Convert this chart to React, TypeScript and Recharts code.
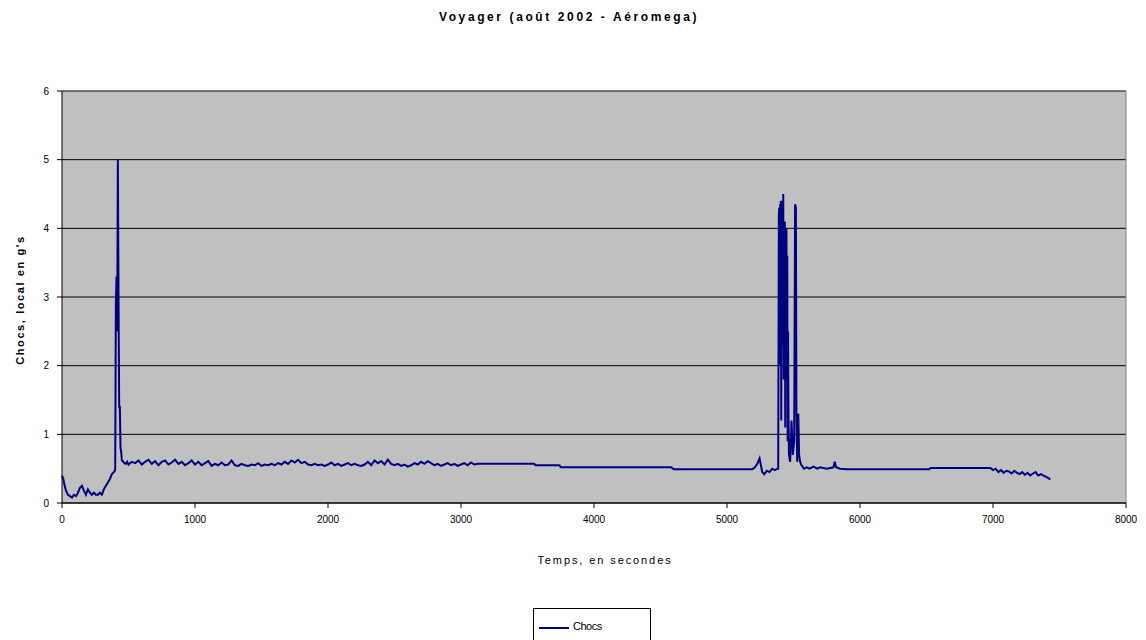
import React from 'react';
import {
  LineChart,
  Line,
  XAxis,
  YAxis,
  CartesianGrid,
  Legend,
  ReferenceLine,
} from 'recharts';

// start: slow ramp, then first shock peak
const startTimes = [
  0, 10, 20, 30, 45, 60, 75, 90, 105, 120, 135, 150, 165, 180, 195, 210, 225, 240, 255, 270,
  285, 300, 315, 330, 345, 360, 375, 390, 400, 405, 410, 415, 420, 425, 430, 435, 440, 445,
  450, 460, 470, 480, 490,
];
const startChocs = [
  0.4, 0.35, 0.25, 0.18, 0.12, 0.1, 0.08, 0.12, 0.1, 0.15, 0.22, 0.25, 0.18, 0.12, 0.2, 0.15,
  0.12, 0.15, 0.12, 0.12, 0.15, 0.12, 0.2, 0.25, 0.3, 0.35, 0.42, 0.45, 0.48, 2.9, 3.3, 2.5,
  5.0, 3.0, 1.4, 1.4, 0.8, 0.75, 0.62, 0.6, 0.58, 0.57, 0.6,
];

// noisy cruise
const cruiseTimes = [
  500, 525, 550, 575, 600, 625, 650, 675, 700, 725,
  750, 775, 800, 825, 850, 875, 900, 925, 950, 975,
  1000, 1025, 1050, 1075, 1100, 1125, 1150, 1175, 1200, 1225,
  1250, 1275, 1300, 1325, 1350, 1375, 1400, 1425, 1450, 1475,
  1500, 1525, 1550, 1575, 1600, 1625, 1650, 1675, 1700, 1725,
  1750, 1775, 1800, 1825, 1850, 1875, 1900, 1925, 1950, 1975,
  2000, 2025, 2050, 2075, 2100, 2125, 2150, 2175, 2200, 2225,
  2250, 2275, 2300, 2325, 2350, 2375, 2400, 2425, 2450, 2475,
  2500, 2525, 2550, 2575, 2600, 2625, 2650, 2675, 2700, 2725,
  2750, 2775, 2800, 2825, 2850, 2875, 2900, 2925, 2950, 2975,
  3000, 3025, 3050, 3075, 3100,
];
const cruiseChocs = [
  0.56, 0.6, 0.58, 0.62, 0.56, 0.6, 0.63, 0.57, 0.61, 0.55,
  0.6, 0.62, 0.56, 0.59, 0.63, 0.57, 0.6, 0.55, 0.58, 0.62,
  0.56, 0.6, 0.55, 0.58, 0.61, 0.54, 0.57, 0.55, 0.59, 0.55,
  0.56, 0.62, 0.55, 0.54, 0.57, 0.55, 0.54, 0.56, 0.55, 0.58,
  0.54, 0.56, 0.55, 0.57, 0.55, 0.58, 0.56, 0.6, 0.57, 0.62,
  0.59, 0.63, 0.58, 0.6, 0.56, 0.55, 0.57, 0.55, 0.56, 0.54,
  0.56, 0.59, 0.55, 0.57, 0.54, 0.56, 0.58, 0.55, 0.57, 0.55,
  0.54, 0.56, 0.6, 0.55, 0.62, 0.58, 0.61, 0.56, 0.63, 0.57,
  0.55, 0.57, 0.54, 0.56, 0.53, 0.55, 0.58, 0.56, 0.6, 0.57,
  0.61, 0.58, 0.55, 0.57, 0.54, 0.56, 0.58, 0.55, 0.57, 0.54,
  0.56, 0.58, 0.55, 0.59, 0.56,
];

// calm stretch before the second burst
const calmTimes = [
  3125, 3550, 3560, 3740, 3750, 4580, 4600, 5190, 5210, 5230, 5245, 5255, 5265, 5280, 5300,
  5320, 5340, 5360, 5380, 5385,
];
const calmChocs = [
  0.57, 0.57, 0.55, 0.55, 0.52, 0.52, 0.49, 0.49, 0.52, 0.58, 0.65, 0.55, 0.45, 0.42, 0.47,
  0.45, 0.5, 0.48, 0.5, 0.5,
];

// second burst of shocks
const burstTimes = [
  5390, 5393, 5396, 5399, 5402, 5405, 5408, 5411, 5414, 5417, 5420, 5423, 5426, 5429, 5432,
  5435, 5438, 5441, 5444, 5447, 5450, 5453, 5456, 5459, 5462, 5466, 5475, 5485, 5495, 5505,
  5512, 5518, 5522, 5528, 5536, 5542, 5550,
];
const burstChocs = [
  4.2, 4.3, 2.0, 4.35, 3.0, 4.4, 1.2, 4.2, 2.3, 4.4, 3.0, 4.5, 1.8, 4.0, 2.2,
  4.1, 1.1, 3.9, 2.6, 4.0, 1.8, 3.6, 0.9, 2.5, 1.3, 0.7, 0.6, 1.2, 0.7, 0.9,
  4.35, 4.3, 1.3, 0.6, 1.3, 0.7, 0.6,
];

// landing / taxi
const endTimes = [
  5560, 5580, 5600, 5620, 5650, 5680, 5700, 5750, 5800, 5810, 5820, 5850, 5900, 6520, 6530,
  6980, 7000, 7020, 7040, 7060, 7080, 7100, 7120, 7140, 7160, 7180, 7200, 7220, 7240, 7260,
  7280, 7300, 7320, 7340, 7360, 7380, 7400, 7420, 7430,
];
const endChocs = [
  0.55, 0.5, 0.52, 0.5, 0.53, 0.5, 0.52, 0.5, 0.52, 0.6, 0.52, 0.5, 0.49, 0.49, 0.51,
  0.51, 0.48, 0.5, 0.45, 0.48, 0.44, 0.47, 0.46, 0.43, 0.47, 0.44, 0.42, 0.45, 0.41, 0.44,
  0.4, 0.43, 0.45, 0.4, 0.42, 0.4, 0.38, 0.36, 0.34,
];

const xTicks = [0, 1000, 2000, 3000, 4000, 5000, 6000, 7000, 8000];
const yTicks = [0, 1, 2, 3, 4, 5, 6];

const times = [...startTimes, ...cruiseTimes, ...calmTimes, ...burstTimes, ...endTimes];
const chocs = [...startChocs, ...cruiseChocs, ...calmChocs, ...burstChocs, ...endChocs];
const data = times.map((t, i) => ({ t, chocs: chocs[i] }));

const FONT = '"Liberation Sans", Arial, sans-serif';

const LegendBox = () => (
  <div
    style={{
      width: 118,
      height: 40,
      border: '1px solid #000',
      background: '#fff',
      boxSizing: 'border-box',
      display: 'flex',
      alignItems: 'flex-start',
      paddingTop: 11,
      paddingLeft: 5,
      fontFamily: FONT,
      fontSize: 11,
      color: '#000',
    }}
  >
    <svg width={32} height={10} style={{ marginTop: 3 }}>
      <line x1={0} y1={5} x2={30} y2={5} stroke="#000080" strokeWidth={2} />
    </svg>
    <span style={{ marginLeft: 2, letterSpacing: -0.5 }}>Chocs</span>
  </div>
);

export default function App() {
  const tick = { fill: '#000', fontSize: 10, fontFamily: FONT };
  return (
    <div style={{ position: 'relative', width: 1146, height: 640, background: '#fff', overflow: 'hidden' }}>
      <style>{'body{margin:0}'}</style>
      <div
        style={{
          position: 'absolute',
          top: 10,
          left: 0,
          width: 1138,
          textAlign: 'center',
          fontFamily: FONT,
          fontWeight: 'bold',
          fontSize: 12,
          letterSpacing: 2.6,
        }}
      >
        Voyager (août 2002 - Aéromega)
      </div>
      <div
        style={{
          position: 'absolute',
          left: 20,
          top: 300,
          transform: 'translate(-50%, -50%) rotate(-90deg)',
          whiteSpace: 'nowrap',
          fontFamily: FONT,
          fontWeight: 'bold',
          fontSize: 11,
          letterSpacing: 1.6,
        }}
      >
        Chocs, local en g's
      </div>
      <div
        style={{
          position: 'absolute',
          top: 554,
          left: 605,
          transform: 'translateX(-50%)',
          whiteSpace: 'nowrap',
          fontFamily: FONT,
          fontSize: 11,
          letterSpacing: 1.9,
        }}
      >
        Temps, en secondes
      </div>
      <LineChart
        width={1146}
        height={640}
        data={data}
        margin={{ top: 91, right: 20, bottom: 107, left: 22 }}
        style={{ position: 'absolute', top: 0, left: 0 }}
      >
        <CartesianGrid vertical={false} stroke="#000" fill="#c0c0c0" />
        <XAxis
          dataKey="t"
          type="number"
          domain={[0, 8000]}
          ticks={xTicks}
          interval={0}
          height={30}
          tick={tick}
          tickSize={5}
          tickMargin={8}
          axisLine={{ stroke: '#000' }}
          tickLine={{ stroke: '#000' }}
        />
        <YAxis
          type="number"
          domain={[0, 6]}
          ticks={yTicks}
          interval={0}
          width={40}
          tick={tick}
          tickSize={5}
          tickMargin={8}
          axisLine={{ stroke: '#000' }}
          tickLine={{ stroke: '#000' }}
        />
        <ReferenceLine x={8000} stroke="#808080" />
        <Line
          type="linear"
          dataKey="chocs"
          name="Chocs"
          stroke="#000080"
          strokeWidth={2}
          dot={false}
          isAnimationActive={false}
        />
        <Legend
          layout="vertical"
          align="center"
          verticalAlign="middle"
          content={<LegendBox />}
          wrapperStyle={{ position: 'absolute', left: 533, top: 608, width: 118 }}
        />
      </LineChart>
    </div>
  );
}
